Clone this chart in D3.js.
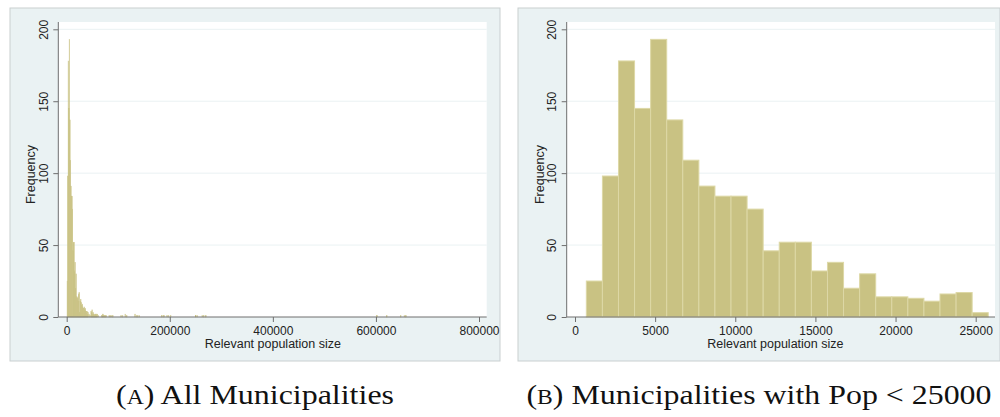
<!DOCTYPE html>
<html>
<head>
<meta charset="utf-8">
<script src="https://cdn.jsdelivr.net/npm/d3@7"></script>
<style>
  html, body { margin: 0; padding: 0; background: #ffffff; }
  svg { display: block; }
  .tick text { font-family: "Liberation Sans", Arial, sans-serif; font-size: 12px; fill: #222; }
</style>
</head>
<body>
<svg id="chart" width="1000" height="417"></svg>
<script>
// Histogram bins: lower edge of the first bin and common bin width (population units)
const binMin = 707;
const binWidth = 1003;

// Frequencies of the 25 bins covering municipalities below 25000
const smallCounts = [25, 98, 178, 145, 193, 137, 109, 91, 84, 84, 75, 46, 52, 52,
                     32, 38, 20, 30, 14, 14, 13, 11, 16, 17, 3];

// Remaining bins for all municipalities: [bin index, frequency]
const tailBins = [
  [25, 11], [26, 12], [27, 10], [28, 8], [29, 9], [30, 7], [31, 6], [32, 6],
  [33, 7], [34, 5], [35, 6], [36, 4], [37, 3], [38, 4], [39, 2], [40, 3],
  [42, 2], [44, 1], [46, 4], [47, 3], [48, 5], [49, 2], [50, 3], [51, 2],
  [52, 2], [53, 1], [54, 2], [55, 2], [56, 1], [57, 2], [58, 2], [60, 1],
  [67, 1], [68, 1], [69, 2], [71, 1], [72, 1], [74, 1], [75, 1],
  [81, 1], [83, 1], [85, 1], [88, 1], [104, 1], [107, 1], [112, 2], [115, 1],
  [131, 2], [134, 1], [136, 1], [139, 1], [183, 1], [187, 1], [193, 1],
  [196, 1], [200, 1], [248, 1], [251, 1], [261, 1], [264, 1], [268, 1],
  [599, 1], [618, 1], [645, 1], [652, 1], [655, 1]
];

// Axis ticks
const yTicks = [0, 50, 100, 150, 200];
const xTicksAll = [0, 200000, 400000, 600000, 800000];
const xTicksSmall = [0, 5000, 10000, 15000, 20000, 25000];

// Axis titles and captions
const xTitle = "Relevant population size";
const yTitle = "Frequency";
const captionA = ["A", " All Municipalities"];
const captionB = ["B", " Municipalities with Pop < 25000"];

const svg = d3.select("#chart");

const panelBg = "#eaf2f3";
const barFill = "#c9c283";
const barEdge = "#ddd8a6";
const axisColor = "#6e6e6e";

function panel(opt) {
  const g = svg.append("g");
  // graph region
  g.append("rect")
    .attr("x", opt.left).attr("y", opt.top)
    .attr("width", opt.right - opt.left).attr("height", opt.bottom - opt.top)
    .attr("fill", panelBg).attr("stroke", "#c9cfd0").attr("stroke-width", 1);
  // plot region
  g.append("rect")
    .attr("x", opt.pl).attr("y", opt.pt)
    .attr("width", opt.pr - opt.pl).attr("height", opt.pb - opt.pt)
    .attr("fill", "#ffffff");

  const x = d3.scaleLinear().domain(opt.xDomain).range(opt.xRange);
  const y = d3.scaleLinear().domain([0, 200]).range([opt.pb, 29.3]);

  // horizontal grid
  g.append("g").selectAll("line")
    .data(yTicks.filter(t => t > 0))
    .join("line")
    .attr("x1", opt.pl).attr("x2", opt.pr)
    .attr("y1", d => y(d)).attr("y2", d => y(d))
    .attr("stroke", panelBg).attr("stroke-width", 1);

  // bars
  g.append("g").selectAll("rect")
    .data(opt.bins)
    .join("rect")
    .attr("x", d => x(binMin + d[0] * binWidth))
    .attr("width", d => x(binMin + (d[0] + 1) * binWidth) - x(binMin + d[0] * binWidth))
    .attr("y", d => y(d[1]))
    .attr("height", d => y(0) - y(d[1]))
    .attr("fill", barFill)
    .attr("stroke", opt.edge)
    .attr("stroke-width", opt.edgeWidth);

  // axes
  const yAxis = g.append("g")
    .attr("transform", `translate(${opt.pl},0)`)
    .call(d3.axisLeft(y).tickValues(yTicks).tickSize(5).tickSizeOuter(0).tickFormat(d3.format("d")));
  yAxis.select(".domain").remove();
  yAxis.selectAll(".tick line").attr("stroke", axisColor);
  yAxis.selectAll(".tick text")
    .attr("transform", "rotate(-90)")
    .attr("x", 0).attr("y", -15).attr("dy", "0.36em")
    .attr("text-anchor", "middle");

  const xAxis = g.append("g")
    .attr("transform", `translate(0,${opt.pb})`)
    .call(d3.axisBottom(x).tickValues(opt.xTicks).tickSize(5).tickSizeOuter(0).tickFormat(d3.format("d")));
  xAxis.select(".domain").remove();
  xAxis.selectAll(".tick line").attr("stroke", axisColor);
  xAxis.selectAll(".tick text").attr("y", 9).attr("dy", "0.71em");

  // axis lines spanning the plot region
  g.append("line")
    .attr("x1", opt.pl).attr("x2", opt.pl).attr("y1", opt.pt).attr("y2", opt.pb)
    .attr("stroke", axisColor).attr("stroke-width", 1);
  g.append("line")
    .attr("x1", opt.pl).attr("x2", opt.pr).attr("y1", opt.pb).attr("y2", opt.pb)
    .attr("stroke", axisColor).attr("stroke-width", 1);

  // titles
  g.append("text")
    .attr("x", (opt.xRange[0] + opt.xRange[1]) / 2).attr("y", 348)
    .attr("text-anchor", "middle")
    .style("font-family", "'Liberation Sans', Arial, sans-serif")
    .style("font-size", "12.5px").attr("fill", "#222")
    .text(xTitle);
  g.append("text")
    .attr("transform", `translate(${opt.yTitleX},${(opt.pt + opt.pb) / 2 + 5}) rotate(-90)`)
    .attr("text-anchor", "middle").attr("dy", "0.36em")
    .style("font-family", "'Liberation Sans', Arial, sans-serif")
    .style("font-size", "12.5px").attr("fill", "#222")
    .text(yTitle);

  // caption
  const cap = g.append("text")
    .attr("x", (opt.left + opt.right) / 2 - opt.capWidth / 2).attr("y", 404)
    .attr("textLength", opt.capWidth).attr("lengthAdjust", "spacingAndGlyphs")
    .style("font-family", "'Liberation Serif', 'DejaVu Serif', serif")
    .style("font-size", "27px").attr("fill", "#111");
  cap.append("tspan").text("(");
  cap.append("tspan").style("font-size", "20px").text(opt.caption[0]);
  cap.append("tspan").text(")" + opt.caption[1]);
}

// Panel A: all municipalities
panel({
  left: 10, right: 500, top: 8, bottom: 361,
  pl: 58.3, pr: 486.7, pt: 22, pb: 317,
  xDomain: [0, 800000], xRange: [66.7, 479], xTicks: xTicksAll,
  yTitleX: 30.7,
  bins: smallCounts.map((c, i) => [i, c]).concat(tailBins),
  edge: barFill, edgeWidth: 0.45,
  caption: captionA, capWidth: 278
});

// Panel B: municipalities below 25000
panel({
  left: 518, right: 1000, top: 8, bottom: 361,
  pl: 566.7, pr: 995, pt: 22, pb: 317,
  xDomain: [0, 25000], xRange: [575, 975.7], xTicks: xTicksSmall,
  yTitleX: 539.3,
  bins: smallCounts.map((c, i) => [i, c]),
  edge: barEdge, edgeWidth: 1,
  caption: captionB, capWidth: 465
});
</script>
</body>
</html>
